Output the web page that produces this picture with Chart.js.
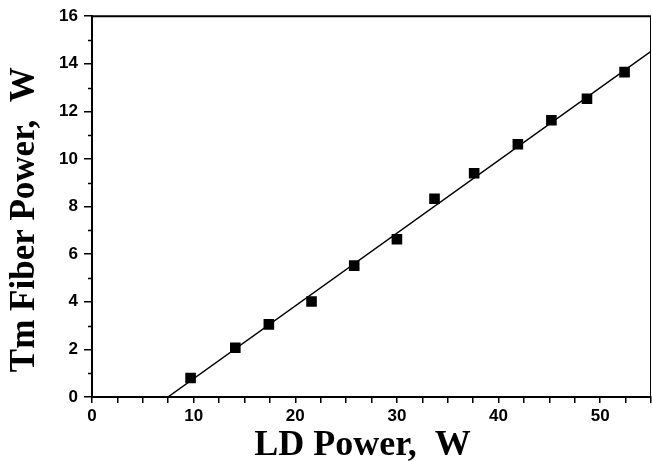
<!DOCTYPE html>
<html>
<head>
<meta charset="utf-8">
<script src="https://cdn.jsdelivr.net/npm/chart.js@4.4.1/dist/chart.umd.min.js"></script>
<style>
  html, body { margin: 0; padding: 0; background: #fff; }
  #wrap { width: 652px; height: 461px; }
</style>
</head>
<body>
<div id="wrap"><canvas id="chart"></canvas></div>
<script>
// measured points
const ldPower = [9.7, 14.1, 17.4, 21.6, 25.8, 30.0, 33.7, 37.6, 41.9, 45.2, 48.7, 52.4];
const tmPower = [0.8, 2.07, 3.05, 4.01, 5.52, 6.63, 8.33, 9.40, 10.62, 11.63, 12.53, 13.65];

// linear fit end points
const fitX = [7.47, 55];
const fitY = [0, 14.52];

const xMin = 0, xMax = 55, xLabelStep = 10, xTickStep = 2.5;
const yMin = 0, yMax = 16, yMajor = 2, yMinor = 1;

const tickFont = { family: 'Liberation Sans, Arial', size: 17, weight: 'bold' };
const xTitleFont = { family: 'Liberation Serif, Times New Roman', size: 36, weight: 'bold' };
const yTitleFont = { family: 'Liberation Serif, Times New Roman', size: 35, weight: 'bold' };

// frame on top/right plus short minor ticks on y
const framePlugin = {
    id: 'frame',
    afterDraw(chart) {
        const ctx = chart.ctx;
        const a = chart.chartArea;
        const ys = chart.scales.y;
        ctx.save();
        ctx.strokeStyle = '#000';
        ctx.lineWidth = 2;
        ctx.beginPath();
        ctx.moveTo(a.left, a.top);
        ctx.lineTo(a.right, a.top);
        ctx.stroke();
        ctx.lineWidth = 1;
        ctx.beginPath();
        ctx.moveTo(a.right - 0.5, a.top);
        ctx.lineTo(a.right - 0.5, a.bottom);
        ctx.stroke();
        ctx.lineWidth = 1.5;
        ctx.beginPath();
        for (let v = yMin + yMinor; v < yMax; v += yMajor) {
            const py = Math.round(ys.getPixelForValue(v)) + 0.5;
            ctx.moveTo(a.left, py);
            ctx.lineTo(a.left - 4, py);
        }
        ctx.stroke();
        ctx.restore();
    }
};

new Chart(document.getElementById('chart').getContext('2d'), {
    type: 'scatter',
    data: {
        datasets: [{
            label: 'Data',
            data: ldPower.map((x, i) => ({ x: x, y: tmPower[i] })),
            pointStyle: 'rect',
            pointRadius: 7.5,
            backgroundColor: '#000',
            borderColor: '#000',
            borderWidth: 0
        }, {
            label: 'Fit',
            type: 'line',
            data: fitX.map((x, i) => ({ x: x, y: fitY[i] })),
            borderColor: '#000',
            borderWidth: 1.5,
            pointRadius: 0,
            fill: false
        }]
    },
    options: {
        responsive: true,
        maintainAspectRatio: false,
        animation: false,
        layout: { autoPadding: false, padding: { top: 16, right: 1, left: 0, bottom: 0 } },
        plugins: {
            legend: { display: false },
            tooltip: { enabled: false }
        },
        scales: {
            x: {
                type: 'linear',
                min: xMin,
                max: xMax,
                afterFit: (s) => { s.height = 64; s.paddingRight = 0; },
                ticks: {
                    stepSize: xTickStep,
                    autoSkip: false,
                    color: '#000',
                    font: tickFont,
                    padding: 3,
                    maxRotation: 0,
                    callback: (v) => (v % xLabelStep === 0 ? v : '')
                },
                grid: { drawOnChartArea: false, tickLength: 6, color: '#000', lineWidth: 1.5 },
                border: { color: '#000', width: 2 },
                title: {
                    display: true,
                    // trailing spaces nudge the centred title left like the original
                    text: 'LD Power,  W  ',
                    color: '#000',
                    font: xTitleFont,
                    padding: { top: 0, bottom: -6 }
                }
            },
            y: {
                type: 'linear',
                min: yMin,
                max: yMax,
                afterFit: (s) => { s.width = 92; },
                ticks: {
                    stepSize: yMajor,
                    color: '#000',
                    font: tickFont,
                    padding: 6
                },
                grid: { drawOnChartArea: false, tickLength: 8, color: '#000', lineWidth: 1.5 },
                border: { color: '#000', width: 2 },
                title: {
                    display: true,
                    // trailing spaces nudge the centred title down like the original
                    text: 'Tm Fiber Power,  W   ',
                    color: '#000',
                    font: yTitleFont,
                    padding: { top: 4, bottom: 0 }
                }
            }
        }
    },
    plugins: [framePlugin]
});
</script>
</body>
</html>
